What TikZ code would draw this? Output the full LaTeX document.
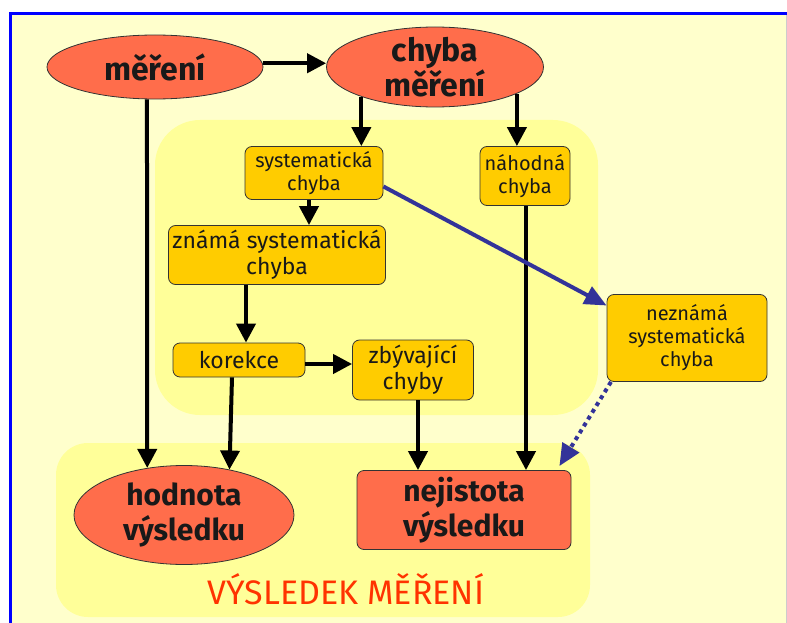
\documentclass[tikz,border=0pt]{standalone}
\usepackage{fontspec}
\setmainfont{Fira Sans}
\usetikzlibrary{arrows.meta,shapes.geometric,calc}
\definecolor{bgyellow}{HTML}{FFFFCC}
\definecolor{panelyellow}{HTML}{FFFF99}
\definecolor{ellfill}{HTML}{FF6D4B}
\definecolor{boxfill}{HTML}{FFCC00}
\definecolor{borderblue}{HTML}{0000FF}
\definecolor{arrblue}{HTML}{333399}
\definecolor{titlered}{HTML}{FF3300}
\newcommand\fbig{\bfseries\fontsize{32}{33}\selectfont}
\newcommand\fbot{\bfseries\fontsize{30}{35}\selectfont}
\newcommand\fmid{\fontsize{23}{26}\selectfont}
\newcommand\fsml{\fontsize{20}{23}\selectfont}
\tikzset{
  ell/.style={ellipse, draw=black!80, line width=0.8pt, fill=ellfill, inner sep=0pt},
  txt/.style={align=center, inner sep=0pt, text=black!90},
  box/.style={rectangle, rounded corners=7pt, draw=black!80, line width=0.8pt, fill=boxfill, inner sep=0pt, align=center, text=black!90},
  rbox/.style={box, fill=ellfill},
  arr/.style={line width=4pt, -{Triangle[length=19pt,width=19pt]}},
  barr/.style={line width=4pt, draw=arrblue, -{Triangle[length=22pt,width=19pt]}},
  dbarr/.style={line width=4pt, draw=arrblue, dash pattern=on 4pt off 4pt, -{Triangle[length=22pt,width=19pt]}}
}
\begin{document}
\begin{tikzpicture}[x=1pt,y=-1pt]
\useasboundingbox (0,0) rectangle (787,623);
\fill[white] (0,0) rectangle (787,623);
\fill[bgyellow] (12,15) rectangle (786,623);
\draw[black!20, line width=1pt] (786.5,15) -- (786.5,623);
\draw[borderblue, line width=3pt] (10.5,623) -- (10.5,13.5) -- (787,13.5);
% panels
\fill[panelyellow, rounded corners=45pt] (155,120) rectangle (598,415);
\fill[panelyellow, rounded corners=32pt] (56,443) rectangle (590,617);
% nodes
\node[ell, minimum width=216pt, minimum height=64pt] (mereni) at (155,67) {};
\node[txt, font=\fbig] (mereni-t) at (mereni) {měření};
\node[ell, minimum width=217pt, minimum height=80pt] (chyba) at (435,67) {};
\node[txt, font=\fbig] (chyba-t) at (chyba) {chyba\\měření};
\node[box, font=\fsml, minimum width=138pt, minimum height=53pt] (sys) at (314,173) {systematická\\chyba};
\node[box, font=\fsml, minimum width=90pt, minimum height=59pt] (nah) at (525,176) {náhodná\\chyba};
\node[box, font=\fmid, minimum width=217pt, minimum height=59pt] (znama) at (277,255) {známá systematická\\chyba};
\node[box, font=\fmid, minimum width=132pt, minimum height=34pt] (korekce) at (239,360) {korekce};
\node[box, font=\fmid, minimum width=121pt, minimum height=60pt] (zby) at (413,370) {zbývající\\chyby};
\node[box, font=\fsml, minimum width=160pt, minimum height=87pt] (nez) at (687,338) {neznámá\\systematická\\chyba};
\node[ell, minimum width=220pt, minimum height=99pt] (hodnota) at (184,515) {};
\node[txt, font=\fbot] (hodnota-t) at (hodnota) {hodnota\\výsledku};
\node[rbox, font=\fbot, minimum width=214pt, minimum height=79pt] (nejistota) at (464,510) {nejistota\\výsledku};
\node[txt, text=titlered, font=\fontsize{34}{36}\selectfont] (title) at (346,589) {VÝSLEDEK MĚŘENÍ};
% connectors
\draw[arr] (mereni.2) -- (mereni.2 -| chyba.west);
\draw[arr] (chyba.202.6) -- (chyba.202.6 |- sys.north);
\draw[arr] (chyba.342.3) -- (chyba.342.3 |- nah.north);
\draw[arr] ([xshift=-5pt]sys.south) -- ([xshift=-5pt]sys.south |- znama.north);
\draw[arr] ([xshift=-31pt]znama.south) -- ([xshift=-31pt]znama.south |- korekce.north);
\draw[arr] ([yshift=-4pt]korekce.east) -- ([yshift=-4pt]korekce.east -| zby.west);
\draw[arr] (mereni.256) -- (hodnota.128.4);
\draw[arr] ([xshift=-7pt]korekce.south) -- (hodnota.45.9);
\draw[arr] ([xshift=5pt]zby.south) -- ([xshift=5pt]zby.south |- nejistota.north);
\draw[arr] ([xshift=1pt]nah.south) -- ([xshift=1pt]nah.south |- nejistota.north);
\draw[barr] (sys.-11.5) -- (nez.158.8);
\draw[dbarr] (nez.210.5) -- ([shift={(-12pt,4pt)}]nejistota.north east);
\end{tikzpicture}
\end{document}
